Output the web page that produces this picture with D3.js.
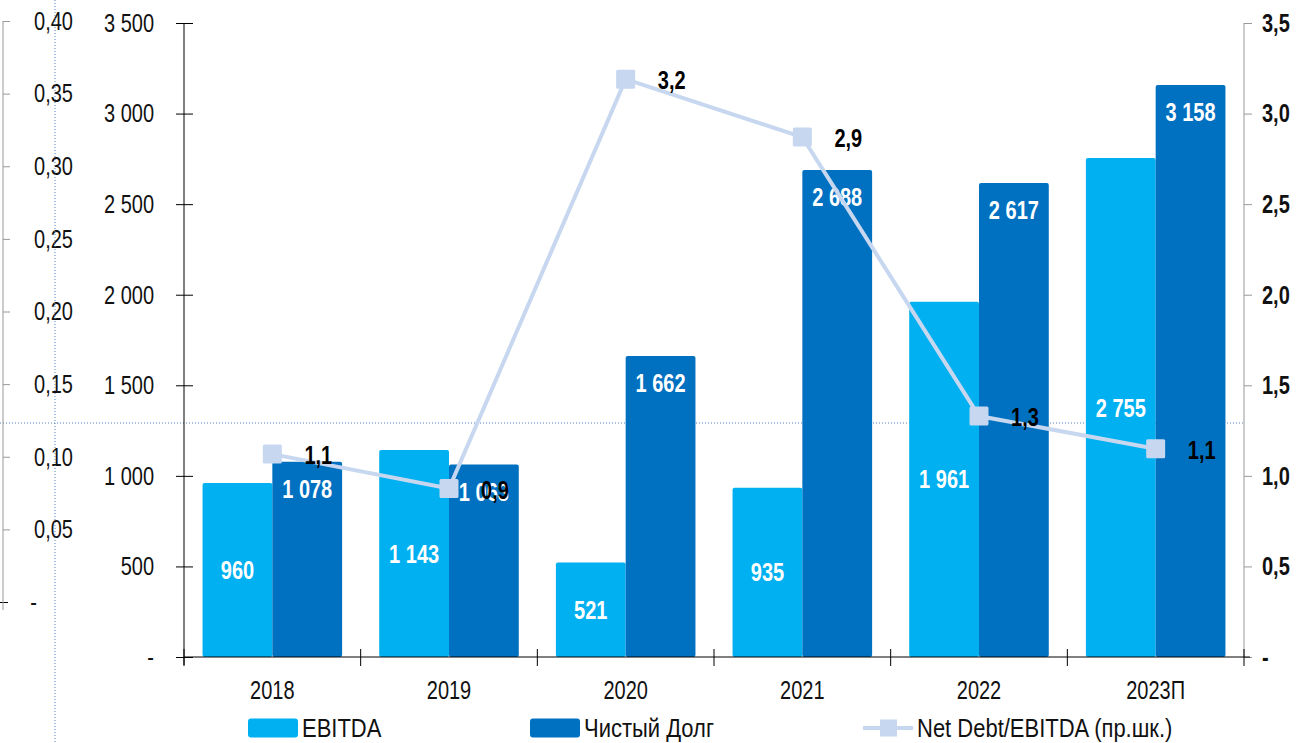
<!DOCTYPE html>
<html>
<head>
<meta charset="utf-8">
<script src="https://cdn.jsdelivr.net/npm/d3@7"></script>
<style>
  body { margin: 0; background: #fff; }
  text { font-family: "Liberation Sans", Arial, sans-serif; }
</style>
</head>
<body>
<svg id="chart" width="1314" height="743"></svg>
<script>
'use strict'

// Data.
const years = ['2018', '2019', '2020', '2021', '2022', '2023П'];
const ebitda = [960, 1143, 521, 935, 1961, 2755];
const netDebt = [1078, 1063, 1662, 2688, 2617, 3158];
const ratio = [1.12, 0.93, 3.19, 2.87, 1.33, 1.15];

const leftTicks = [0, 500, 1000, 1500, 2000, 2500, 3000, 3500];
const rightTicks = [0, 0.5, 1, 1.5, 2, 2.5, 3, 3.5];
const farTicks = [0, 0.05, 0.1, 0.15, 0.2, 0.25, 0.3, 0.35, 0.4];

const legendNames = ['EBITDA', 'Чистый Долг', 'Net Debt/EBITDA (пр.шк.)'];

const colors = {ebitda: '#00B0F0', debt: '#0070C0', line: '#C6D7EF', dots: '#4F81BD'};

const ru = d3.formatLocale({decimal: ',', thousands: '\u00a0', grouping: [3], currency: ['', '']});
const fmtInt = v => v === 0 ? '-' : ru.format(',.0f')(v);
const fmt1 = v => v === 0 ? '-' : ru.format('.1f')(v);
const fmt2 = v => v === 0 ? '-' : ru.format('.2f')(v);

// the source chart is stretched vertically
const stretch = 'scale(1,1.3)';
const fontSize = 20;

const svg = d3.select('#chart');

const plot = {left: 184, right: 1244, top: 23, bottom: 657};

const x = d3.scaleBand()
    .domain(years)
    .range([plot.left, plot.right])
    .paddingInner(0.21)
    .paddingOuter(0.105);

const xs = d3.scaleBand()
    .domain(['ebitda', 'debt'])
    .range([0, x.bandwidth()]);

const y = d3.scaleLinear().domain([0, 3500]).range([plot.bottom, plot.top]);
const yR = d3.scaleLinear().domain([0, 3.5]).range([plot.bottom, plot.top]);
const yFar = d3.scaleLinear().domain([0, 0.4]).range([602, 21]);

const rows = years.map((yr, i) => ({year: yr, ebitda: ebitda[i], debt: netDebt[i], ratio: ratio[i]}));

// Dotted guide lines
svg.append('line')
    .attr('x1', 0).attr('x2', plot.right)
    .attr('y1', 423).attr('y2', 423)
    .attr('stroke', colors.dots).attr('stroke-width', 1)
    .attr('stroke-dasharray', '1,2');

// Bars
const groups = svg.append('g').selectAll('g')
    .data(rows)
    .join('g')
    .attr('transform', d => `translate(${x(d.year)},0)`);

groups.selectAll('rect')
    .data(d => [{key: 'ebitda', v: d.ebitda}, {key: 'debt', v: d.debt}])
    .join('rect')
    .attr('x', d => xs(d.key))
    .attr('y', d => y(d.v))
    .attr('width', xs.bandwidth())
    .attr('height', d => y(0) - y(d.v))
    .attr('rx', 2)
    .attr('fill', d => colors[d.key]);

// Bar labels
function putText(sel, fx, fy) {
    sel.attr('transform', d => `translate(${fx(d)},${fy(d)}) ${stretch}`)
        .attr('dy', '0.35em')
        .style('font-size', fontSize + 'px');
}

svg.append('g').selectAll('text')
    .data(rows)
    .join('text')
    .attr('text-anchor', 'middle')
    .attr('fill', '#fff')
    .style('font-weight', 'bold')
    .text(d => fmtInt(d.ebitda))
    .call(putText, d => x(d.year) + xs('ebitda') + xs.bandwidth() / 2, d => (y(d.ebitda) + y(0)) / 2);

svg.append('g').selectAll('text')
    .data(rows)
    .join('text')
    .attr('text-anchor', 'middle')
    .attr('fill', '#fff')
    .style('font-weight', 'bold')
    .text(d => fmtInt(d.debt))
    .call(putText, d => x(d.year) + xs('debt') + xs.bandwidth() / 2, d => y(d.debt) + 27);

// Ratio line
const cx = d => x(d.year) + x.bandwidth() / 2;
const line = d3.line().x(cx).y(d => yR(d.ratio));

svg.append('path')
    .datum(rows)
    .attr('d', line)
    .attr('fill', 'none')
    .attr('stroke', colors.line)
    .attr('stroke-width', 4);

svg.append('g').selectAll('rect')
    .data(rows)
    .join('rect')
    .attr('x', d => cx(d) - 9.5)
    .attr('y', d => yR(d.ratio) - 9.5)
    .attr('width', 19).attr('height', 19)
    .attr('rx', 1.5)
    .attr('fill', colors.line);

svg.append('g').selectAll('text')
    .data(rows)
    .join('text')
    .attr('text-anchor', 'middle')
    .attr('fill', '#000')
    .style('font-weight', 'bold')
    .text(d => fmt1(d.ratio))
    .call(putText, d => cx(d) + 46, d => yR(d.ratio) + 1);

// Main left axis
const leftAxis = svg.append('g')
    .attr('transform', `translate(${plot.left},0)`)
    .call(d3.axisLeft(y).tickValues(leftTicks).tickSize(0).tickPadding(30).tickFormat(fmtInt));
leftAxis.select('.domain').remove();
leftAxis.selectAll('text').style('font-size', fontSize + 'px').attr('fill', '#111').attr('transform', stretch);
leftAxis.selectAll('.tick').append('line')
    .attr('x1', -8).attr('x2', 9).attr('stroke', '#000');
leftAxis.append('line')
    .attr('y1', plot.top).attr('y2', plot.bottom + 8).attr('stroke', '#000');

// Right axis
const rightAxis = svg.append('g')
    .attr('transform', `translate(${plot.right},0)`)
    .call(d3.axisRight(yR).tickValues(rightTicks).tickSize(8).tickPadding(10).tickFormat(fmt1));
rightAxis.select('.domain').remove();
rightAxis.selectAll('.tick line').attr('stroke', '#999');
rightAxis.selectAll('text').style('font-size', fontSize + 'px').style('font-weight', 'bold')
    .attr('fill', '#111').attr('transform', stretch);
rightAxis.append('line')
    .attr('y1', plot.top).attr('y2', plot.bottom).attr('stroke', '#999');

// Far left axis
const farAxis = svg.append('g')
    .attr('transform', 'translate(3,0)')
    .call(d3.axisRight(yFar).tickValues(farTicks).tickSize(7).tickFormat(fmt2));
farAxis.select('.domain').remove();
farAxis.selectAll('.tick line').attr('stroke', '#999');
farAxis.selectAll('.tick').filter(d => d === 0).select('line')
    .attr('x1', -4).attr('x2', 5).attr('stroke', '#000');
farAxis.selectAll('text')
    .attr('text-anchor', 'end')
    .attr('x', d => d === 0 ? 34 : 70)
    .style('font-size', fontSize + 'px').attr('fill', '#111').attr('transform', stretch);
farAxis.append('line')
    .attr('y1', yFar(0.4)).attr('y2', yFar(0) + 8).attr('stroke', '#999');

// X axis
const xAxis = svg.append('g')
    .attr('transform', `translate(0,${plot.bottom})`)
    .call(d3.axisBottom(x).tickSize(0).tickPadding(25));
xAxis.select('.domain').remove();
xAxis.selectAll('text').style('font-size', fontSize + 'px').attr('fill', '#111')
    .attr('dy', '0.35em').attr('transform', stretch);
xAxis.append('line')
    .attr('x1', plot.left).attr('x2', plot.right + 6).attr('stroke', '#000');
xAxis.selectAll('line.sep')
    .data(d3.range(years.length + 1))
    .join('line')
    .attr('class', 'sep')
    .attr('x1', i => plot.left + i * x.step())
    .attr('x2', i => plot.left + i * x.step())
    .attr('y1', -8).attr('y2', 9)
    .attr('stroke', '#000');

// Vertical dotted line at the far left
svg.append('line')
    .attr('x1', 55).attr('x2', 55)
    .attr('y1', 0).attr('y2', 743)
    .attr('stroke', colors.dots).attr('stroke-width', 1)
    .attr('stroke-dasharray', '1,2');

// Legend
const legendY = 728;
const legend = svg.append('g');
const legendItems = [
    {name: legendNames[0], x: 248, type: 'bar', color: colors.ebitda},
    {name: legendNames[1], x: 530, type: 'bar', color: colors.debt},
    {name: legendNames[2], x: 863, type: 'line', color: colors.line}
];
legendItems.forEach(it => {
    if (it.type === 'bar') {
        legend.append('rect')
            .attr('x', it.x).attr('y', legendY - 9.5)
            .attr('width', 50).attr('height', 19)
            .attr('rx', 3)
            .attr('fill', it.color);
    } else {
        legend.append('line')
            .attr('x1', it.x).attr('x2', it.x + 50)
            .attr('y1', legendY).attr('y2', legendY)
            .attr('stroke', it.color).attr('stroke-width', 4);
        legend.append('rect')
            .attr('x', it.x + 17).attr('y', legendY - 8.5)
            .attr('width', 17).attr('height', 17)
            .attr('fill', it.color);
    }
    legend.append('text')
        .attr('transform', `translate(${it.x + 54},${legendY}) scale(1,1.2)`)
        .attr('dy', '0.35em')
        .style('font-size', '22px')
        .attr('fill', '#111')
        .text(it.name);
});
</script>
</body>
</html>
